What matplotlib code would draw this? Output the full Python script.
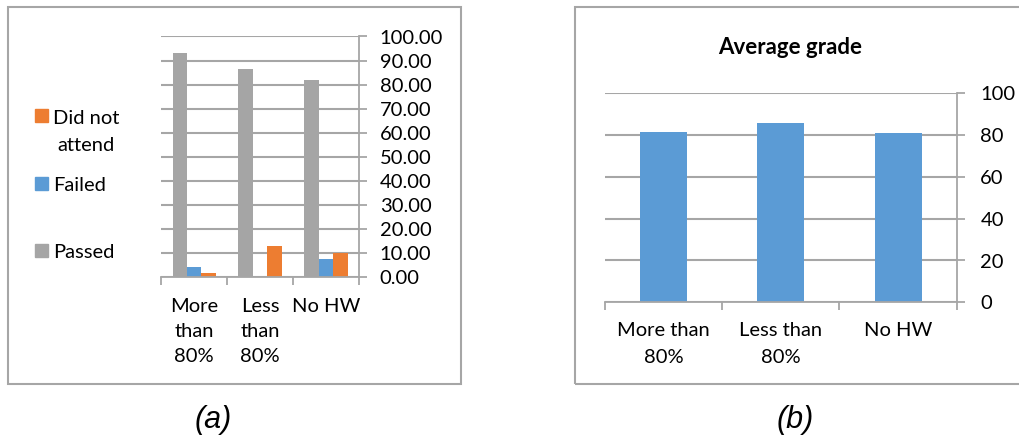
import numpy as np
import matplotlib.pyplot as plt
from matplotlib.patches import Rectangle

plt.rcParams['font.family'] = ['Lato', 'DejaVu Sans']

# attendance outcome by homework group (%)
groups_a = ['More\nthan\n80%', 'Less\nthan\n80%', 'No HW']
passed = [93.2, 86.4, 81.9]
failed = [4.1, 0.0, 7.6]
did_not_attend = [1.8, 13.0, 10.0]

# average grade by homework group
groups_b = ['More than\n80%', 'Less than\n80%', 'No HW']
avg_grade = [81.6, 85.6, 81.1]

GRAY = '#a5a5a5'
BLUE = '#5b9bd5'
ORANGE = '#ed7d31'
GRID = '#a6a6a6'
W, H = 1019, 444
FS = 14.5


def px_box(x0, y0, x1, y1):
    # pixel box (top-left origin) -> figure fraction rect
    return [x0 / W, 1 - y1 / H, (x1 - x0) / W, (y1 - y0) / H]


def style_axes(ax, n):
    for s in ['left', 'top']:
        ax.spines[s].set_visible(False)
    for s in ['right', 'bottom']:
        ax.spines[s].set_color(GRID)
        ax.spines[s].set_linewidth(1.3)
    ax.yaxis.tick_right()
    ax.yaxis.grid(True, color=GRID, linewidth=1.5)
    ax.set_axisbelow(True)
    ax.set_xlim(-0.5, n - 0.5)
    ax.set_xticks(np.arange(n))
    ax.set_xticks(np.arange(n + 1) - 0.5, minor=True)
    ax.tick_params(axis='x', which='major', length=0, labelsize=FS)
    ax.tick_params(axis='x', which='minor', length=6, color=GRID, width=1.3)
    ax.tick_params(axis='y', length=6, color=GRID, width=1.3, labelsize=FS)


fig = plt.figure(figsize=(W / 100, H / 100), dpi=100)

# outer chart frames
for box in [(8, 7, 460.5, 384), (575, 7, 1030, 384)]:
    fig.patches.append(Rectangle((box[0] / W, 1 - box[3] / H),
                                 (box[2] - box[0]) / W, (box[3] - box[1]) / H,
                                 transform=fig.transFigure, fill=False,
                                 edgecolor=GRID, linewidth=1.5))

# (a) pass / fail / absent
ax1 = fig.add_axes(px_box(161.3, 36.5, 359, 277.3))
x = np.arange(len(groups_a))
bw = 0.22
ax1.bar(x - bw, passed, bw, color=GRAY, label='Passed')
ax1.bar(x, failed, bw, color=BLUE, label='Failed')
ax1.bar(x + bw, did_not_attend, bw, color=ORANGE, label='Did not\nattend')
style_axes(ax1, len(groups_a))
ax1.set_ylim(0, 100)
ax1.set_yticks(np.arange(0, 101, 10))
ax1.set_yticklabels([f'{v:.2f}' for v in np.arange(0, 101, 10)])
ax1.tick_params(axis='y', pad=9)
ax1.set_xticks(x)
ax1.set_xticklabels(groups_a, linespacing=1.55)
ax1.tick_params(axis='x', which='major', pad=15)

# legend, drawn by hand so the wrapped entry sits like the original
legend_items = [('Did not\nattend', ORANGE, 116), ('Failed', BLUE, 183.5), ('Passed', GRAY, 250.5)]
for label, color, yc in legend_items:
    fig.patches.append(Rectangle((35 / W, 1 - (yc + 6.5) / H), 13 / W, 13 / H,
                                 transform=fig.transFigure, color=color))
    fig.text(53 / W, 1 - (yc - 6.5) / H, label, fontsize=FS, va='top', ha='left',
             multialignment='center', linespacing=1.75)

# (b) average grade
ax2 = fig.add_axes(px_box(605, 93.3, 956.7, 302.3))
xb = np.arange(len(groups_b))
ax2.bar(xb, avg_grade, 0.4, color=BLUE)
style_axes(ax2, len(groups_b))
ax2.set_ylim(0, 100)
ax2.set_yticks(np.arange(0, 101, 20))
ax2.tick_params(axis='y', pad=11)
ax2.set_xticklabels(groups_b, linespacing=1.75)
ax2.tick_params(axis='x', which='major', pad=14)
fig.text(790 / W, 1 - 47 / H, 'Average grade', fontsize=16, fontweight='bold',
         ha='center', va='center')

# panel captions
fig.text(213 / W, 1 - 420 / H, '(a)', fontsize=22, style='italic',
         family='Liberation Sans', ha='center', va='center')
fig.text(795 / W, 1 - 420 / H, '(b)', fontsize=22, style='italic',
         family='Liberation Sans', ha='center', va='center')

fig.savefig('out.png', dpi=100, facecolor='white')
